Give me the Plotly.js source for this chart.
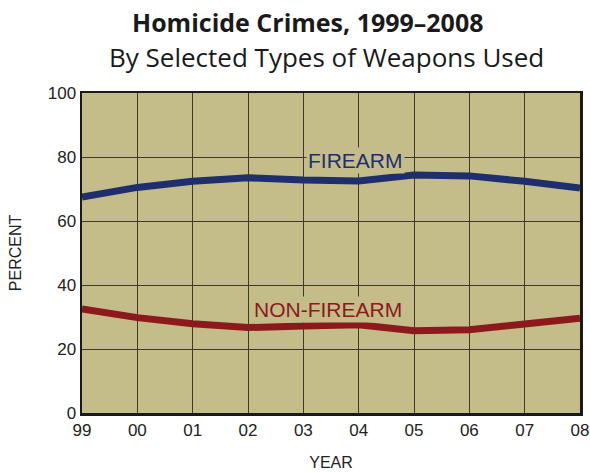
<!DOCTYPE html>
<html>
<head>
<meta charset="utf-8">
<script src="https://cdn.plot.ly/plotly-3.0.1.min.js"></script>
<style>body{margin:0;padding:0;background:#fff}</style>
</head>
<body>
<div id="chart" style="width:590px;height:473px"></div>
<script>
var years = ["99","00","01","02","03","04","05","06","07","08"];
var firearm = [67.5, 70.5, 72.4, 73.5, 72.8, 72.5, 74.4, 74.1, 72.4, 70.3];
var nonFirearm = [32.5, 29.8, 27.9, 26.7, 27.2, 27.6, 25.7, 26.0, 27.8, 29.6];
var yTicks = [0, 20, 40, 60, 80, 100];

var plotBg = "#c4bd8a";
var traces = [
  {x: years, y: firearm, type: "scatter", mode: "lines", name: "FIREARM",
   line: {color: "#1f2f6e", width: 7}},
  {x: years, y: nonFirearm, type: "scatter", mode: "lines", name: "NON-FIREARM",
   line: {color: "#8c1a1d", width: 7}}
];
var layout = {
  width: 590, height: 473,
  margin: {l: 82, r: 10, t: 93, b: 60},
  paper_bgcolor: "#ffffff",
  plot_bgcolor: plotBg,
  showlegend: false,
  font: {family: "Liberation Sans, Arial, sans-serif", color: "#222"},
  xaxis: {
    type: "category", range: [0, 9], tickvals: years, ticktext: years,
    showgrid: true, gridcolor: "#3d3a2c", gridwidth: 1,
    showline: true, linecolor: "#1a1a1a", linewidth: 2.5, mirror: true,
    ticks: "", tickfont: {size: 17, color: "#222"},
    title: {text: "YEAR", font: {size: 16, color: "#222"}, standoff: 18},
    zeroline: false
  },
  yaxis: {
    range: [0, 100], tickvals: yTicks, ticktext: yTicks.map(String),
    showgrid: true, gridcolor: "#3d3a2c", gridwidth: 1,
    showline: true, linecolor: "#1a1a1a", linewidth: 2.5, mirror: true,
    ticks: "", tickfont: {size: 17, color: "#222"},
    title: {text: "PERCENT", font: {size: 16, color: "#222"}, standoff: 22},
    zeroline: false
  },
  annotations: [
    {text: "<b>Homicide Crimes, 1999–2008</b>", xref: "paper", yref: "paper",
     x: 0.454, y: 1.0, yanchor: "middle", yshift: 71, showarrow: false,
     font: {family: "Open Sans, Noto Sans, sans-serif", size: 25, color: "#1a1a1a"}},
    {text: "By Selected Types of Weapons Used", xref: "paper", yref: "paper",
     x: 0.49, y: 1.0, yanchor: "middle", yshift: 36, showarrow: false,
     font: {family: "Open Sans, Noto Sans, sans-serif", size: 26, color: "#1a1a1a"}},
    {text: "FIREARM", xref: "x", yref: "y", x: 4.95, y: 79, showarrow: false,
     bgcolor: plotBg, borderpad: 1,
     font: {family: "Liberation Sans, Arial, sans-serif", size: 21, color: "#1f2f6e"}},
    {text: "NON-FIREARM", xref: "x", yref: "y", x: 4.45, y: 32.3, showarrow: false,
     bgcolor: plotBg, borderpad: 1,
     font: {family: "Liberation Sans, Arial, sans-serif", size: 21, color: "#8c1a1d"}}
  ]
};
Plotly.newPlot("chart", traces, layout, {displayModeBar: false, staticPlot: true});
</script>
</body>
</html>
